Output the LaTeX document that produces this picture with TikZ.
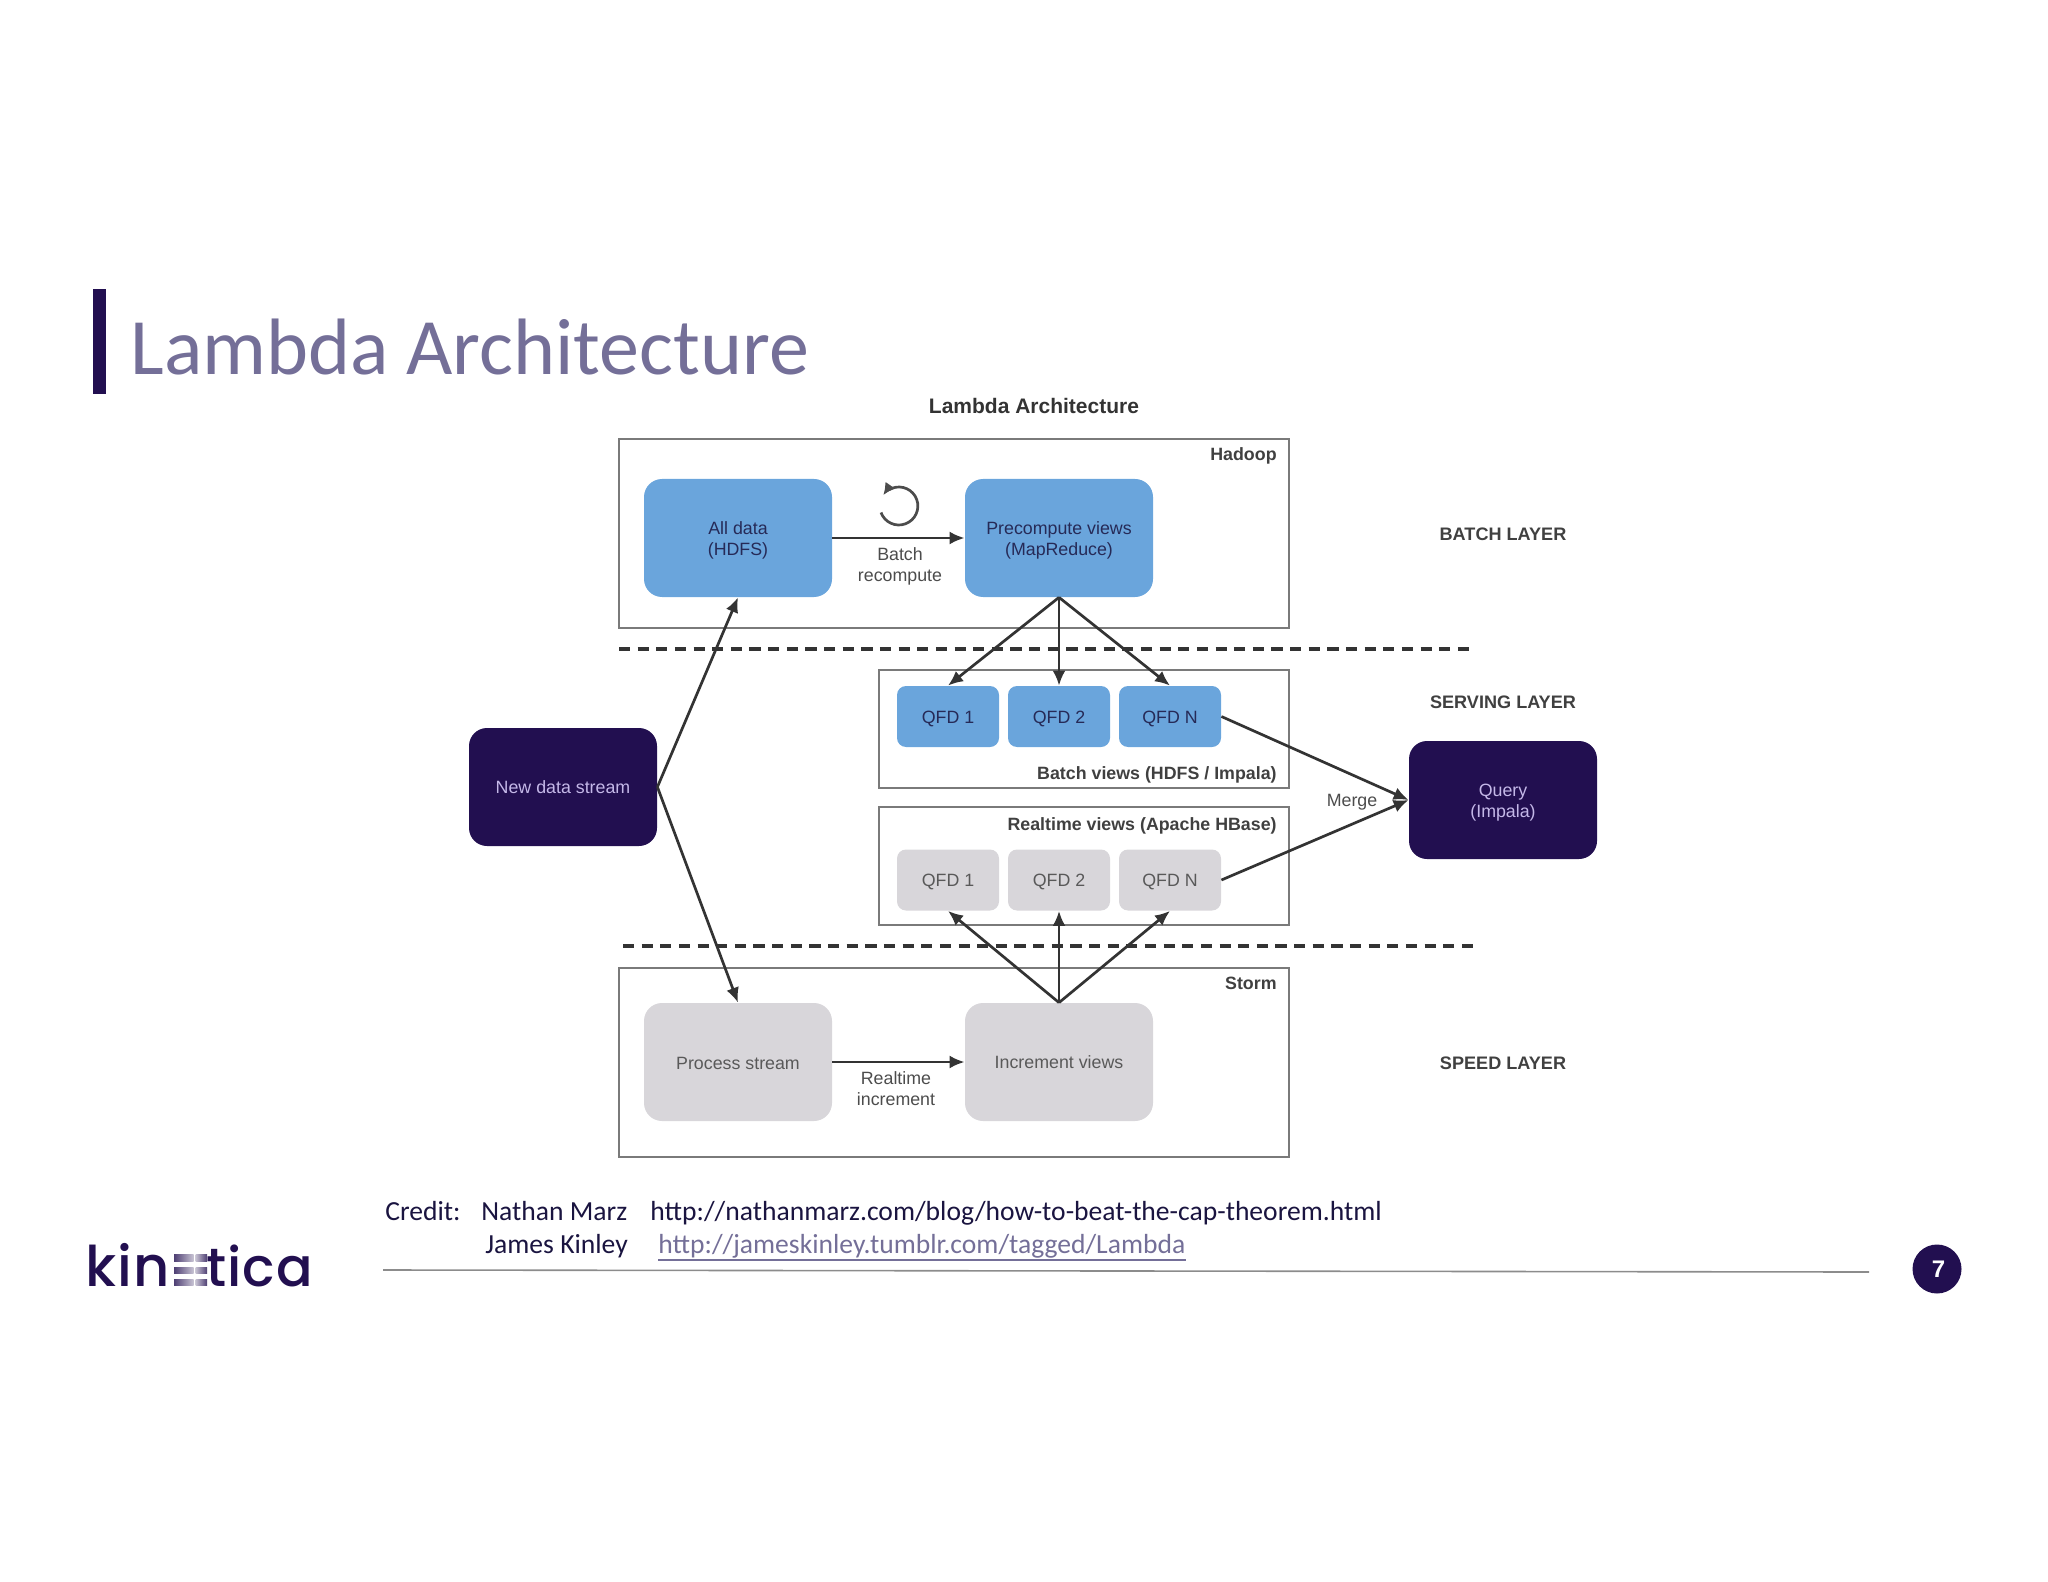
\documentclass[tikz,border=0pt]{standalone}
\usepackage{fontspec}
\setmainfont{Liberation Sans}
\newfontfamily\carl{Carlito}
\newfontfamily\popp{Poppins}[UprightFont=* Medium,LetterSpace=2]
\usetikzlibrary{arrows.meta,calc}
\definecolor{navy}{HTML}{220F50}
\definecolor{slate}{HTML}{746F98}
\definecolor{ink}{HTML}{1A1440}
\definecolor{blu}{HTML}{6AA5DC}
\definecolor{gry}{HTML}{D8D6DA}
\definecolor{frm}{HTML}{7A7A7A}
\definecolor{lav}{HTML}{C4B8E8}
\newcommand\dn[2][1.2pt]{\raisebox{-#1}[\height][\depth]{#2}}
\tikzset{
  frame/.style={draw=frm,line width=1.2pt,fill=none,inner sep=0pt},
  big/.style={rounded corners=9pt,inner sep=0pt,minimum width=94pt,minimum height=59pt,align=center,font=\fontsize{8.9}{10.5}\selectfont},
  small/.style={rounded corners=4.5pt,inner sep=0pt,minimum width=51pt,minimum height=30.5pt,align=center,font=\fontsize{8.9}{10.5}\selectfont},
  bluebox/.style={fill=blu,text=ink!85!blu},
  greybox/.style={fill=gry,text=black!65},
  navybox/.style={fill=navy,text=lav},
  lbl/.style={inner sep=0pt,align=center,text=black!70,font=\fontsize{8.9}{10.5}\selectfont},
  bold/.style={inner sep=0pt,text=black!75,font=\fontsize{8.9}{10.5}\selectfont\bfseries},
  layer/.style={inner sep=0pt,text=black!75,font=\fontsize{9.05}{10.5}\selectfont\bfseries},
  conn/.style={draw=black!80,line width=1.35pt,-{Latex[length=7.5pt,width=6.5pt]}},
  sepline/.style={draw=black!80,line width=1.65pt,dash pattern=on 5.6pt off 3.72pt},
  credit/.style={inner sep=0pt,anchor=base west,text=ink,font=\fontsize{13.8}{16}\carl},
}
\begin{document}
\begin{tikzpicture}[x=0.5pt,y=-0.5pt]
\useasboundingbox (0,0) rectangle (2048,1582);
% slide header
\fill[navy] (93,289) rectangle (106,394);
\node[inner sep=0pt,anchor=base west,text=slate,font=\fontsize{40}{48}\carl] (title) at (130,374.5) {Lambda Architecture};
\node[inner sep=0pt,text=black!80,font=\fontsize{10.5}{12}\selectfont\bfseries] (cap) at (1034,406) {Lambda Architecture};
% frames
\node[frame,minimum width=335pt,minimum height=94.5pt] (hadoop) at (954,533.5) {};
\node[frame,minimum width=205pt,minimum height=59pt] (bviews) at (1084,729) {};
\node[frame,minimum width=205pt,minimum height=59pt] (rviews) at (1084,866) {};
\node[frame,minimum width=335pt,minimum height=94.5pt] (storm) at (954,1062.5) {};
\node[bold,anchor=east] (lhadoop) at (1277,455.5) {Hadoop};
\node[bold,anchor=east] (lbviews) at (1277,774.5) {Batch views (HDFS / Impala)};
\node[bold,anchor=east] (lrviews) at (1277,825.5) {Realtime views (Apache HBase)};
\node[bold,anchor=east] (lstorm) at (1277,983.5) {Storm};
% big boxes
\node[big,bluebox] (all) at (738,538) {\dn{All data}\\\dn{(HDFS)}};
\node[big,bluebox] (pre) at (1059,538) {\dn{Precompute views}\\\dn{(MapReduce)}};
\node[big,greybox] (proc) at (738,1062) {\dn[0.6pt]{Process stream}};
\node[big,greybox] (inc) at (1059,1062) {Increment views};
\node[big,navybox] (nds) at (563,787) {New data stream};
\node[big,navybox] (query) at (1503,800) {\dn{Query}\\\dn{(Impala)}};
% small boxes
\node[small,bluebox] (b1) at (948,716.5) {\dn{QFD 1}};
\node[small,bluebox] (b2) at (1059,716.5) {\dn{QFD 2}};
\node[small,bluebox] (bn) at (1170,716.5) {\dn{QFD N}};
\node[small,greybox] (r1) at (948,880) {\dn{QFD 1}};
\node[small,greybox] (r2) at (1059,880) {\dn{QFD 2}};
\node[small,greybox] (rn) at (1170,880) {\dn{QFD N}};
% labels
\node[lbl] (lbatch) at (900,566) {Batch\\recompute};
\node[lbl] (lreal) at (896,1089) {Realtime\\increment};
\node[lbl] (lmerge) at (1352,802) {Merge};
\node[layer] (l1) at (1503,534) {BATCH LAYER};
\node[layer] (l2) at (1503,702) {SERVING LAYER};
\node[layer] (l3) at (1503,1063) {SPEED LAYER};
% dashed separators
\coordinate (d1a) at (619,649); \coordinate (d1b) at (1469,649);
\coordinate (d2a) at (623,946); \coordinate (d2b) at (1473,946);
\draw[sepline] (d1a) -- (d1b);
\draw[sepline] (d2a) -- (d2b);
% connectors
\draw[conn] (all.east) -- (pre.west);
\draw[conn] (proc.east) -- (inc.west);
\draw[conn] (nds.east) -- (all.south);
\draw[conn] (nds.east) -- (proc.north);
\draw[conn] (pre.south) -- (b1.north);
\draw[conn] (pre.south) -- (b2.north);
\draw[conn] (pre.south) -- (bn.north);
\draw[conn] (inc.north) -- (r1.south);
\draw[conn] (inc.north) -- (r2.south);
\draw[conn] (inc.north) -- (rn.south);
\draw[conn] (bn.east) -- (query.west);
\draw[conn] (rn.east) -- (query.west);
% recompute loop
\coordinate (loopstart) at (881,512.5);
\draw[draw=black!70,line width=1.35pt,-{Latex[length=6pt,width=6pt]}] (loopstart) arc[start angle=200,end angle=505,radius=9.5pt];
% footer
\node[credit] (c1) at (385,1220) {Credit:};
\node[credit] (c2) at (481,1220) {Nathan Marz};
\node[credit] (c3) at (650,1220) {http://nathanmarz.com/blog/how-to-beat-the-cap-theorem.html};
\node[credit] (c4) at (485,1253) {James Kinley};
\node[credit,text=slate] (c5) at (658,1253) {http://jameskinley.tumblr.com/tagged/Lambda};
\draw[slate,line width=0.7pt] ($(c5.base west)+(0,7)$) -- ($(c5.base east)+(0,7)$);
\coordinate (fa) at (383,1270); \coordinate (fb) at (1869,1272);
\draw[black!45,line width=0.8pt] (fa) -- (fb);
\node[circle,fill=navy,text=white,minimum size=24.5pt,inner sep=0pt,font=\fontsize{12}{13}\selectfont\bfseries] (num) at (1937,1269) {\hspace*{1.6pt}7};
% logo
\node[inner sep=0pt,anchor=base west,text=navy,font=\fontsize{28}{30}\popp] (lk) at (85,1286) {kin};
\node[inner sep=0pt,anchor=base west,text=navy,font=\fontsize{27}{30}\popp] (lt) at (206,1286) {tica};
\foreach \y/\h in {1254/7,1267/6.5,1279/6.5}{
  \shade[left color=navy!80,right color=navy!25] (174,\y) rectangle (193.5,\y+\h);
  \shade[left color=navy!25,right color=navy!80] (195.5,\y) rectangle (207,\y+\h);
}
\end{tikzpicture}
\end{document}
